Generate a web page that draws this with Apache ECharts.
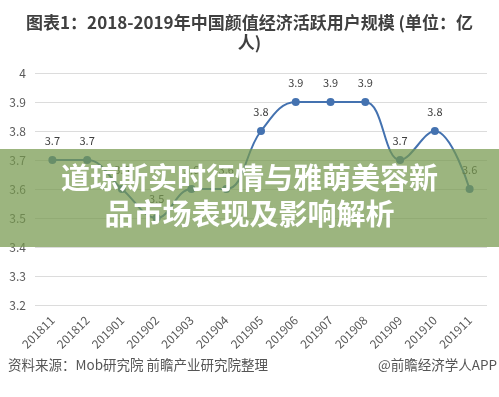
<!DOCTYPE html>
<html>
<head>
<meta charset="utf-8">
<script src="https://cdn.jsdelivr.net/npm/echarts@6/dist/echarts.min.js"></script>
<style>
html,body{margin:0;padding:0;background:#fff;}
#c{width:499px;height:397px;}
</style>
</head>
<body>
<div id="c"></div>
<script>
var categories = ['201811','201812','201901','201902','201903','201904','201905','201906','201907','201908','201909','201910','201911'];
var users = [3.7, 3.7, 3.6, 3.5, 3.6, 3.6, 3.8, 3.9, 3.9, 3.9, 3.7, 3.8, 3.6];
var yTicks = [3.2, 3.3, 3.4, 3.5, 3.6, 3.7, 3.8, 3.9, 4];
var titleText = '图表1：2018-2019年中国颜值经济活跃用户规模 (单位：亿\n人)';
var bannerLines = ['道琼斯实时行情与雅萌美容新', '品市场表现及影响解析'];
var sourceText = '资料来源：Mob研究院 前瞻产业研究院整理';
var brandText = '@前瞻经济学人APP';

var FONT = '"Noto Sans CJK SC", "Noto Sans", sans-serif';
var chart = echarts.init(document.getElementById('c'), null, {renderer: 'canvas'});
chart.setOption({
  backgroundColor: '#ffffff',
  animation: false,
  title: {
    text: titleText,
    left: 'center',
    top: 8,
    textStyle: {fontFamily: FONT, fontSize: 17, fontWeight: 'bold', color: '#404040', lineHeight: 20}
  },
  grid: {left: 35, right: 12, top: 73, bottom: 92, containLabel: false},
  xAxis: {
    type: 'category',
    data: categories,
    boundaryGap: true,
    axisLine: {show: false},
    axisTick: {show: false},
    axisLabel: {rotate: 45, fontSize: 12, color: '#595959', fontFamily: FONT, margin: 13, interval: 0}
  },
  yAxis: {
    type: 'value',
    min: yTicks[0],
    max: yTicks[yTicks.length - 1],
    interval: 0.1,
    axisLine: {show: false},
    axisTick: {show: false},
    axisLabel: {fontSize: 12, color: '#595959', fontFamily: FONT, margin: 9,
      formatter: function (v) { return String(Math.round(v * 10) / 10); }},
    splitLine: {lineStyle: {color: '#dcdcdc', width: 1}}
  },
  series: [{
    type: 'line',
    data: users,
    smooth: 0.4,
    symbol: 'circle',
    symbolSize: 8,
    lineStyle: {color: '#4472b0', width: 2},
    itemStyle: {color: '#4472b0'},
    label: {show: true, position: 'top', distance: 10, fontSize: 11, color: '#404040', fontFamily: FONT,
      formatter: function (p) { return p.value.toFixed(1); }}
  }],
  graphic: [
    {type: 'rect', left: 0, top: 149, z: 100, shape: {width: 499, height: 98},
      style: {fill: 'rgba(118,152,78,0.72)'}},
    {type: 'text', left: 'center', top: 163, z: 101,
      style: {text: bannerLines[0], font: 'bold 29px ' + FONT, fill: '#ffffff',
        shadowColor: 'rgba(0,0,0,0.35)', shadowBlur: 3, shadowOffsetX: 1, shadowOffsetY: 1}},
    {type: 'text', left: 'center', top: 199, z: 101,
      style: {text: bannerLines[1], font: 'bold 29px ' + FONT, fill: '#ffffff',
        shadowColor: 'rgba(0,0,0,0.35)', shadowBlur: 3, shadowOffsetX: 1, shadowOffsetY: 1}},
    {type: 'text', left: 8, top: 358, z: 50,
      style: {text: sourceText, font: '13.5px ' + FONT, fill: '#555555'}},
    {type: 'text', right: 2, top: 358, z: 50,
      style: {text: brandText, font: '13.5px ' + FONT, fill: '#555555'}}
  ]
});
</script>
</body>
</html>
